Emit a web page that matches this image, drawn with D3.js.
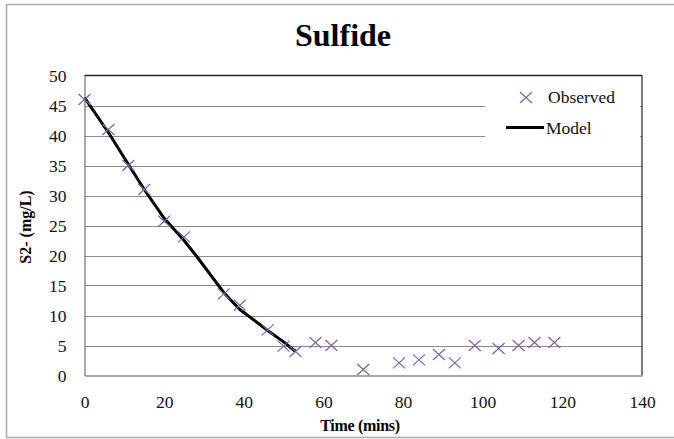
<!DOCTYPE html>
<html><head><meta charset="utf-8">
<script src="https://cdn.jsdelivr.net/npm/d3@7"></script>
<style>body{margin:0;background:#fff}svg{display:block}text{font-family:"Liberation Serif","Times New Roman",serif}</style>
</head><body>
<script>
const title = "Sulfide";
const xLabel = "Time (mins)";
const yLabel = "S2- (mg/L)";
const xTicks = [0,20,40,60,80,100,120,140];
const yTicks = [0,5,10,15,20,25,30,35,40,45,50];
const obsTime = [0,6,11,15,20,25,35,39,46,50,53,58,62,70,79,84,89,93,98,104,109,113,118];
const obsValue = [46,41,35,31,25.7,23.1,13.6,11.7,7.6,4.9,4,5.5,5,1,2.1,2.6,3.5,2.1,5,4.5,5,5.5,5.5];
const modelTime = [0,6,11,15,20,25,28,35,39,46,50,53];
const modelValue = [46.3,40.5,35.2,31,26.2,22.5,20,13.8,11,7.5,5.6,4];

const W=674,H=439;
const svg=d3.select("body").append("svg").attr("width",W).attr("height",H);
const serif='"Liberation Serif","Times New Roman",serif';
svg.append("rect").attr("x",6.5).attr("y",4.5).attr("width",670).attr("height",433)
  .attr("fill","#fff").attr("stroke","#aaa").attr("stroke-width",1.5);

const x=d3.scaleLinear().domain([0,140]).range([84.5,642]);
const y=d3.scaleLinear().domain([0,50]).range([375.5,75.5]);

// gridlines
svg.append("g").selectAll("line").data(yTicks.filter(v=>v>0&&v<50)).join("line")
  .attr("x1",x(0)).attr("x2",x(140)).attr("y1",d=>Math.round(y(d))+0.5).attr("y2",d=>Math.round(y(d))+0.5)
  .attr("stroke","#8c8c8c").attr("stroke-width",1);

// plot border: top/right dark, left/bottom gray
svg.append("line").attr("x1",x(0)).attr("x2",x(140)).attr("y1",y(50)).attr("y2",y(50)).attr("stroke","#222").attr("stroke-width",1.3);
svg.append("line").attr("x1",x(140)).attr("x2",x(140)).attr("y1",y(50)).attr("y2",y(0)).attr("stroke","#333").attr("stroke-width",1.3);

// axes
const yAxis=svg.append("g").attr("transform",`translate(${x(0)},0)`)
  .call(d3.axisLeft(y).tickValues(yTicks).tickSize(0).tickPadding(18).tickFormat(d3.format("d")));
const xAxis=svg.append("g").attr("transform",`translate(0,${y(0)})`)
  .call(d3.axisBottom(x).tickValues(xTicks).tickSize(0).tickPadding(20).tickFormat(d3.format("d")));
[yAxis,xAxis].forEach(g=>{
  g.attr("font-family",null).attr("font-size",null);
  g.select(".domain").attr("stroke","#8c8c8c").attr("stroke-width",1.5);
  g.selectAll("text").style("font-family",serif).style("font-size","17.5px").attr("fill","#111");
});
yAxis.selectAll("text").attr("dy","0.33em");

// legend background
svg.append("rect").attr("x",485).attr("y",82).attr("width",155).attr("height",58).attr("fill","#fff");

// model line
const line=d3.line().x((d,i)=>x(modelTime[i])).y((d,i)=>y(modelValue[i]));
svg.append("path").attr("d",line(modelValue)).attr("fill","none").attr("stroke","#000")
  .attr("stroke-width",3).attr("stroke-linejoin","round");

// observed markers
const purple="#8064a2";
const cross=(g,cx,cy)=>{
  g.append("path").attr("d",`M${cx-6},${cy-5.5}L${cx+6},${cy+5.5}M${cx-6},${cy+5.5}L${cx+6},${cy-5.5}`)
   .attr("stroke",purple).attr("stroke-width",1.2).attr("fill","none");
};
const mg=svg.append("g");
obsTime.forEach((t,i)=>cross(mg,x(t),y(obsValue[i])));

// legend
cross(svg.append("g"),526,97.5);
svg.append("text").attr("x",548).attr("y",103).text("Observed").style("font-family",serif).style("font-size","17.5px").attr("fill","#111");
svg.append("line").attr("x1",506).attr("x2",544).attr("y1",127.5).attr("y2",127.5).attr("stroke","#000").attr("stroke-width",3);
svg.append("text").attr("x",546).attr("y",133.5).text("Model").style("font-family",serif).style("font-size","17.5px").attr("fill","#111");

// titles
svg.append("text").attr("x",343).attr("y",46).attr("text-anchor","middle").text(title)
  .style("font-family",serif).style("font-weight","bold").style("font-size","32px").attr("fill","#000");
svg.append("text").attr("x",360).attr("y",431).attr("text-anchor","middle").text(xLabel)
  .style("font-family",serif).style("font-weight","bold").style("font-size","16px").attr("letter-spacing","-0.3").attr("fill","#000");
svg.append("text").attr("transform","translate(31,227) rotate(-90)").attr("text-anchor","middle").text(yLabel)
  .style("font-family",serif).style("font-weight","bold").style("font-size","16px").attr("fill","#000");
</script>
</body></html>
